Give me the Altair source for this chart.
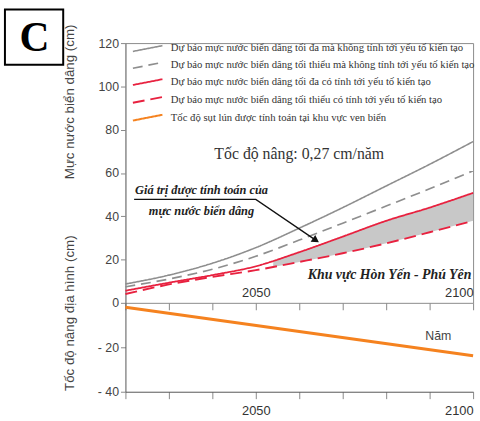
import altair as alt
import pandas as pd

# ---------------- data ----------------
years = [2020, 2030, 2040, 2050, 2060, 2070, 2080, 2090, 2100]
gray_max = [8.7, 12.8, 18.3, 25.5, 34.5, 44.0, 54.0, 64.0, 74.5]
gray_min = [7.4, 11.0, 15.5, 21.5, 29.0, 36.8, 44.7, 52.7, 61.0]
red_max = [5.6, 9.3, 12.8, 16.9, 23.4, 30.6, 37.9, 44.0, 50.8]
red_min = [4.1, 8.5, 12.0, 15.1, 18.9, 22.9, 27.5, 32.6, 37.9]

fill_years = [2054, 2060, 2070, 2080, 2090, 2100]
fill_hi = [19.5, 23.4, 30.6, 37.9, 44.0, 50.8]
fill_lo = [16.6, 18.9, 22.9, 27.5, 32.6, 37.9]

uplift_years = [2020, 2100]
uplift_vals = [-2.0, -23.8]

series_names = [
    "Dự báo mực nước biển dâng tối đa mà không tính tới yếu tố kiến tạo",
    "Dự báo mực nước biển dâng tối thiểu mà không tính tới yếu tố kiến tạo",
    "Dự báo mực nước biển dâng tối đa có tính tới yếu tố kiến tạo",
    "Dự báo mực nước biển dâng tối thiểu có tính tới yếu tố kiến tạo",
    "Tốc độ sụt lún được tính toán tại khu vực ven biển",
]
series_colors = ["#8e8e8e", "#8e8e8e", "#e8213f", "#e8213f", "#f5821f"]
series_dash = [[1, 0], [10, 6], [1, 0], [12, 6], [1, 0]]
series_width = [1.6, 2.0, 2.4, 3.0, 3.0]

tick_years = [2020, 2030, 2040, 2050, 2060, 2070, 2080, 2090, 2100]
up_ticks = [20, 40, 60, 80, 100, 120]
low_ticks = [0, -20, -40]

rate_text = ["Tốc độ nâng: 0,27 cm/năm"]
rate_pos = [(2060, 68.9)]
calc_text = ["Giá trị được tính toán của", "mực nước biển dâng"]
calc_pos = [(2037.5, 52.3), (2037.5, 42.3)]
area_text = ["Khu vực Hòn Yến - Phú Yên"]
area_pos = [(2099.6, 12.8)]
year_text = ["Năm"]
year_pos = [(2092, -15.1)]
arrow_years = [2022.0, 2050.0, 2063.6]
arrow_vals = [47.8, 47.8, 29.2]
panel_label = ["C"]

# ---------------- tables ----------------
rows = []
for name, vals in zip(series_names[:4], [gray_max, gray_min, red_max, red_min]):
    for yr, v in zip(years, vals):
        rows.append({"series": name, "year": yr, "value": v})
lines_df = pd.DataFrame(rows)
fill_df = pd.DataFrame({"year": fill_years, "hi": fill_hi, "lo": fill_lo})
uplift_df = pd.DataFrame({"year": uplift_years, "value": uplift_vals})
arrow_df = pd.DataFrame({"year": arrow_years, "value": arrow_vals})
head_df = pd.DataFrame({"year": [arrow_years[-1]], "value": [arrow_vals[-1]]})


def txt_df(texts, pos):
    return pd.DataFrame({"t": texts, "year": [p[0] for p in pos], "value": [p[1] for p in pos]})


xscale = alt.Scale(domain=[2020, 2100], nice=False, zero=False)
yscale_up = alt.Scale(domain=[0, 120], nice=False)
yscale_low = alt.Scale(domain=[-40, 0], nice=False)

label_expr = "(datum.value == 2050 || datum.value == 2100) ? datum.label : ''"

x_up = alt.X(
    "year:Q", scale=xscale,
    axis=alt.Axis(values=tick_years, format="d", labelExpr=label_expr, domain=False,
                  grid=False, tickSize=7, labelPadding=-17, labelBaseline="middle",
                  labelFlush=True, labelOverlap=False, title=None, labelFontSize=13,
                  labelColor="#333"),
)
y_up = alt.Y(
    "value:Q", scale=yscale_up,
    axis=alt.Axis(values=up_ticks, grid=False, tickSize=5, labelPadding=2, domain=True,
                  title="Mực nước biển dâng (cm)", titleX=-57, titleY=59,
                  titleAlign="center", titleBaseline="middle", titleFontSize=13.5,
                  titleFontWeight="normal", titleColor="#444", labelFontSize=12.5,
                  labelColor="#444"),
)

legend = alt.Legend(
    orient="none", legendX=8, legendY=-2, title=None,
    symbolType="M-2.3,0.45L2.3,-0.45", symbolSize=169, symbolOffset=7,
    labelOffset=16, labelFont="Liberation Serif", labelFontSize=10.8,
    labelColor="#333", labelLimit=318, rowPadding=3, padding=0,
)

lines = alt.Chart(lines_df).mark_line(interpolate="monotone").encode(
    x=x_up, y=y_up,
    color=alt.Color("series:N", scale=alt.Scale(domain=series_names, range=series_colors), legend=legend),
    strokeDash=alt.StrokeDash("series:N", scale=alt.Scale(domain=series_names, range=series_dash), legend=legend),
    strokeWidth=alt.StrokeWidth("series:N", scale=alt.Scale(domain=series_names, range=series_width), legend=legend),
)

fill = alt.Chart(fill_df).mark_area(color="#c8c8c8", interpolate="monotone").encode(
    x=alt.X("year:Q", scale=xscale), y=alt.Y("hi:Q", scale=yscale_up), y2="lo:Q"
)

arrow = alt.Chart(arrow_df).mark_line(color="#111", strokeWidth=1.3).encode(
    x=alt.X("year:Q", scale=xscale), y=alt.Y("value:Q", scale=yscale_up)
)
head = alt.Chart(head_df).mark_point(shape="triangle", filled=True, color="#111", size=70,
                                     angle=124, opacity=1).encode(
    x=alt.X("year:Q", scale=xscale), y=alt.Y("value:Q", scale=yscale_up)
)

rate = alt.Chart(txt_df(rate_text, rate_pos)).mark_text(
    font="Liberation Serif", fontSize=16, color="#333", align="center", baseline="middle"
).encode(x=alt.X("year:Q", scale=xscale), y=alt.Y("value:Q", scale=yscale_up), text="t:N")

calc = alt.Chart(txt_df(calc_text, calc_pos)).mark_text(
    font="Liberation Serif", fontSize=12.5, fontStyle="italic", fontWeight="bold",
    color="#222", align="center", baseline="middle"
).encode(x=alt.X("year:Q", scale=xscale), y=alt.Y("value:Q", scale=yscale_up), text="t:N")

area_lbl = alt.Chart(txt_df(area_text, area_pos)).mark_text(
    font="Liberation Serif", fontSize=14, fontStyle="italic", fontWeight="bold",
    color="#222", align="right", baseline="middle"
).encode(x=alt.X("year:Q", scale=xscale), y=alt.Y("value:Q", scale=yscale_up), text="t:N")

label_df = pd.DataFrame({"t": panel_label})
cbox = alt.Chart(label_df).mark_rect(fill="white", stroke="black", strokeWidth=2).encode(
    x=alt.value(-122), x2=alt.value(-63), y=alt.value(-34), y2=alt.value(22)
)
ctext = alt.Chart(label_df).mark_text(
    font="Liberation Serif", fontSize=42, fontWeight="bold", color="black",
    align="center", baseline="middle"
).encode(x=alt.value(-92), y=alt.value(-5), text="t:N")

upper = alt.layer(fill, lines, arrow, head, rate, calc, area_lbl, cbox, ctext).properties(
    width=352, height=263,
    view=alt.ViewBackground(stroke="#8a8a8a", strokeWidth=1),
)

# lower panel
x_low = alt.X(
    "year:Q", scale=xscale,
    axis=alt.Axis(values=tick_years, format="d", labelExpr=label_expr, grid=False,
                  tickSize=7, labelPadding=6, labelFlush=True, labelOverlap=False,
                  title=None, labelFontSize=13, labelColor="#333", domainColor="#555"),
)
y_low = alt.Y(
    "value:Q", scale=yscale_low,
    axis=alt.Axis(values=low_ticks, grid=False, tickSize=5, labelPadding=2,
                  labelExpr="datum.value == 0 ? '0' : '- ' + abs(datum.value)",
                  title="Tốc độ nâng địa hình (cm)", titleX=-57, titleY=10,
                  titleAlign="center", titleBaseline="middle", titleFontSize=13.5,
                  titleFontWeight="normal", titleColor="#444", labelFontSize=12.5,
                  labelColor="#444", domainColor="#555"),
)
uplift = alt.Chart(uplift_df).mark_line(color=series_colors[4], strokeWidth=3).encode(x=x_low, y=y_low)
nam = alt.Chart(txt_df(year_text, year_pos)).mark_text(
    font="Liberation Sans", fontSize=12.5, color="#444", align="center", baseline="middle"
).encode(x=alt.X("year:Q", scale=xscale), y=alt.Y("value:Q", scale=yscale_low), text="t:N")

lower = alt.layer(uplift, nam).properties(
    width=352, height=90,
    view=alt.ViewBackground(stroke="transparent"),
)

chart = alt.vconcat(upper, lower, spacing=0, bounds="flush").properties(
    padding={"left": 3, "top": 5, "right": 0, "bottom": 0}
).configure_axis(
    labelFont="Liberation Sans", titleFont="Liberation Sans", tickColor="#555", domainColor="#555"
).configure(background="white")

chart.save("out.html", embed_options={"renderer": "svg", "actions": False})
